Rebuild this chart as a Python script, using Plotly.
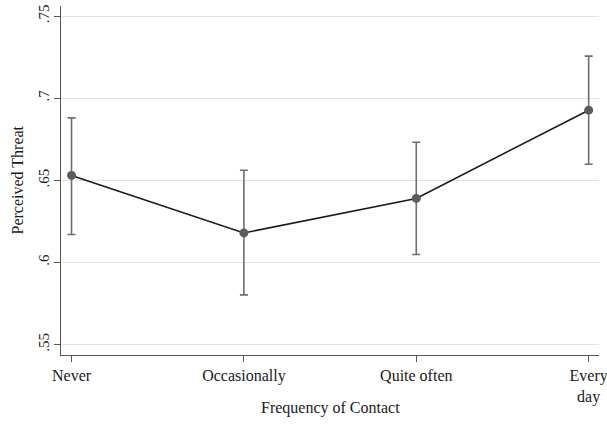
import plotly.graph_objects as go

categories = ["Never", "Occasionally", "Quite often", "Every<br>day"]
means = [0.653, 0.618, 0.639, 0.6927]
ci_upper = [0.688, 0.6561, 0.6732, 0.7256]
ci_lower = [0.617, 0.5803, 0.6049, 0.6598]

y_tickvals = [0.55, 0.60, 0.65, 0.70, 0.75]
y_ticktext = [".55", ".6", ".65", ".7", ".75"]

x_title = "Frequency of Contact"
y_title = "Perceived Threat"

x_pos = list(range(len(categories)))
err_plus = [u - m for u, m in zip(ci_upper, means)]
err_minus = [m - l for m, l in zip(means, ci_lower)]

font_family = "Liberation Serif"
fs = 16

fig = go.Figure()
fig.add_trace(go.Scatter(
    x=x_pos, y=means, mode="lines+markers",
    line=dict(color="#1a1a1a", width=1.6),
    marker=dict(color="#5c5c5c", size=9),
    error_y=dict(type="data", symmetric=False, array=err_plus, arrayminus=err_minus,
                 color="#6e6e6e", thickness=1.6, width=4),
    showlegend=False,
))

fig.update_layout(
    width=607, height=428,
    margin=dict(l=61, r=8, t=6, b=73),
    paper_bgcolor="white", plot_bgcolor="white",
    font=dict(family=font_family, size=fs, color="#1a1a1a"),
    xaxis=dict(
        range=[-0.061, 3.06],
        tickvals=x_pos, ticktext=categories,
        showgrid=False, zeroline=False, automargin=False,
        showline=True, linecolor="#555555", linewidth=1.2,
        ticks="outside", ticklen=6, tickcolor="#555555", tickwidth=1.2,
        tickfont=dict(size=fs, family=font_family),
        ticklabeloverflow="allow",
    ),
    yaxis=dict(
        range=[0.5437, 0.7561],
        tickvals=y_tickvals, ticktext=y_ticktext,
        tickangle=-90, automargin=False,
        showgrid=True, gridcolor="#e3e3e3", gridwidth=1,
        zeroline=False,
        showline=True, linecolor="#555555", linewidth=1.2,
        ticks="outside", ticklen=6, tickcolor="#555555", tickwidth=1.2,
        tickfont=dict(size=15, family=font_family),
        ticklabelstandoff=-1,
    ),
    annotations=[
        dict(text=x_title, xref="paper", yref="paper", x=0.5, y=0,
             xanchor="center", yanchor="middle", yshift=-53, showarrow=False,
             font=dict(size=fs, family=font_family, color="#1a1a1a")),
        dict(text=y_title, xref="paper", yref="paper", x=0, y=0.5,
             xanchor="center", yanchor="middle", xshift=-44, textangle=-90, showarrow=False,
             font=dict(size=fs, family=font_family, color="#1a1a1a")),
    ],
)

fig.write_html("out.html", config={"displayModeBar": False},
               post_script="document.body.style.margin='0';")
